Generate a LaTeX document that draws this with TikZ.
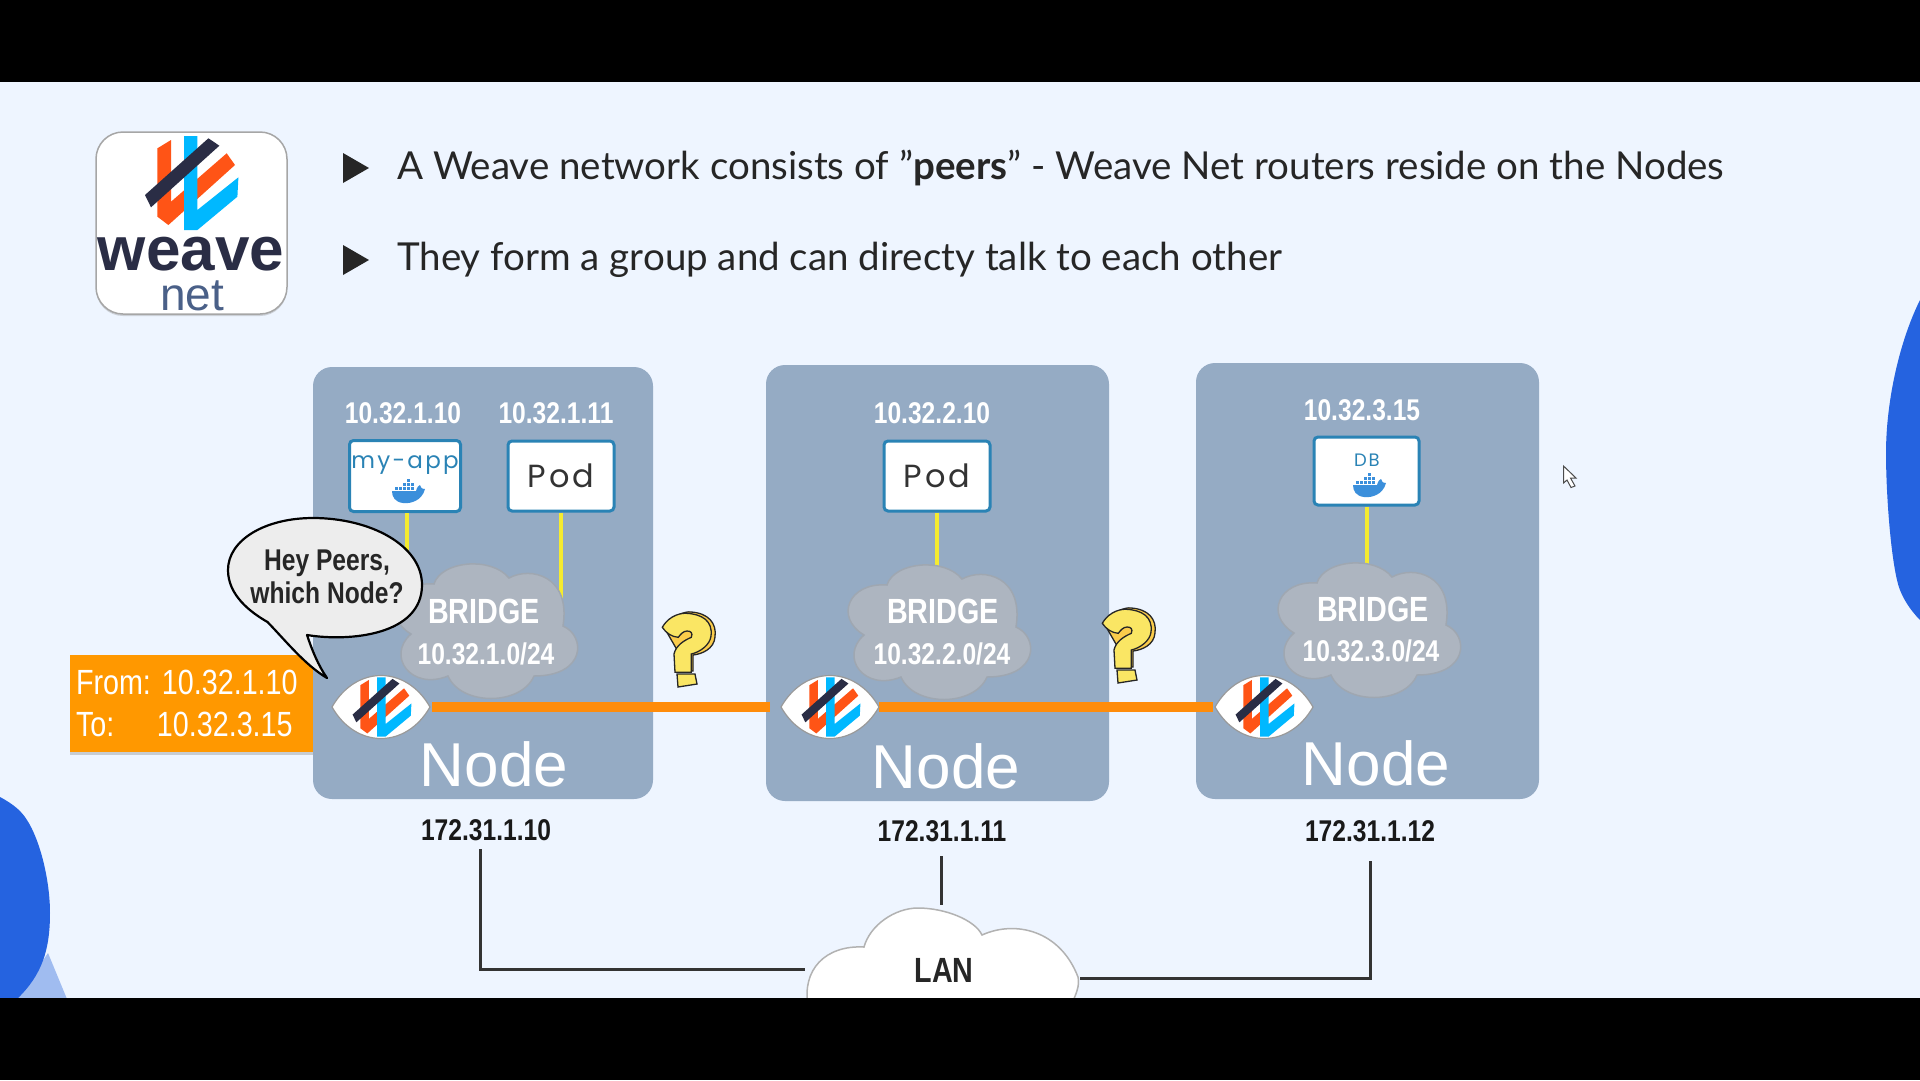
\documentclass[tikz,border=0pt]{standalone}
\usepackage{fontspec}
\usepackage{xcolor}
\usetikzlibrary{arrows.meta,calc,positioning,shadows}
\setmainfont{Lato}
\newfontfamily\condfont[FakeStretch=0.82]{Liberation Sans}
\newfontfamily\plainfont{Liberation Sans}
\newfontfamily\podfont[LetterSpace=10]{Poppins}
\newcommand{\fsz}[1]{\fontsize{#1}{#1}\selectfont}
\definecolor{slidebg}{RGB}{238,245,255}
\definecolor{hostblue}{RGB}{149,171,196}
\definecolor{cloudgrey}{RGB}{173,181,192}
\definecolor{blobblue}{RGB}{37,99,224}
\definecolor{bloblight}{RGB}{160,188,240}
\definecolor{weaveorange}{RGB}{255,84,22}
\definecolor{weavecyan}{RGB}{0,184,255}
\definecolor{weavedark}{RGB}{42,45,69}
\definecolor{weavegrey}{RGB}{74,96,136}
\definecolor{peerorange}{RGB}{255,140,10}
\definecolor{pktorange}{RGB}{255,152,0}
\definecolor{linkyellow}{RGB}{245,235,48}
\definecolor{podedge}{RGB}{42,131,181}
\definecolor{whaleblue}{RGB}{59,143,219}
\definecolor{askyellow}{RGB}{250,230,100}
\tikzset{
  hostbox/.style={fill=hostblue,rounded corners=19pt,inner sep=0pt},
  podbox/.style={draw=podedge,fill=white,line width=3pt,rounded corners=4pt,inner sep=0pt},
  hosttext/.style={text=white,font=\plainfont\fsz{62}},
  iptext/.style={text=white,font=\condfont\bfseries\fsz{30}},
  bridgetext/.style={text=white,font=\condfont\bfseries\fsz{35}},
  subnettext/.style={text=white,font=\condfont\bfseries\fsz{30}},
  lantext/.style={text=black!85,font=\condfont\bfseries\fsz{30}},
  bullettext/.style={anchor=west,inner sep=0pt,text=black!85,font=\fsz{38.5}},
  peerlink/.style={peerorange,line width=10pt},
  vethlink/.style={linkyellow,line width=4pt},
  lanlink/.style={black!80,line width=3pt},
  bridgecloud/.pic={
    \path[fill=cloudgrey,draw=cloudgrey!92!black,line width=1.5pt]
      (-52,-47) .. controls (-45,-70) and (5,-75) .. (23,-53)
      .. controls (45,-65) and (85,-55) .. (77,-5)
      .. controls (100,5) and (100,45) .. (48,45)
      .. controls (35,75) and (-25,75) .. (-38,45)
      .. controls (-75,60) and (-100,25) .. (-75,3)
      .. controls (-105,-15) and (-90,-50) .. (-52,-47) -- cycle;
  },
  weavemark/.pic={
    \fill[weaveorange] (-34.3,-34.7)--(-20.7,-43)--(-20.7,18.7)--(35,-29.7)--(43.3,-18)--(-23.3,42)--(-34.3,33.7)--cycle;
    \fill[weavecyan] (-7.7,-47)--(5.7,-47)--(5.7,27)--(46.7,-5.7)--(45.7,13.7)--(5.7,47)--(-7.7,47)--cycle;
    \fill[weavedark] (-46.7,12)--(16.7,-44.7)--(27.7,-37.3)--(-40.7,24.3)--cycle;
  },
  peereye/.pic={
    \path[fill=white,draw=black!40,line width=1.2pt]
      (-49,0) .. controls (-25,-42) and (25,-42) .. (49,0)
      .. controls (25,42) and (-25,42) .. (-49,0) -- cycle;
    \pic[scale=.63] at (1,0) {weavemark};
  },
  askmark/.pic={
    \path[fill=askyellow!75!orange,draw=black!85,line width=1.3pt]
      (-23,-22) .. controls (-16,-36) and (-2,-40) .. (3,-39)
      .. controls (20,-38) and (29,-28) .. (27,-14)
      .. controls (26,-2) and (14,3) .. (5,4) -- (5,20) -- (-8,21) -- (-8,4) -- cycle;
    \path[fill=askyellow,draw=black!85,line width=1.3pt]
      (-25.7,-23.7) .. controls (-18,-37) and (-5,-38) .. (-1.7,-37.7)
      .. controls (14,-37) and (25,-30) .. (23,-15)
      .. controls (22,-6) and (12,1) .. (3.3,3) -- (3.3,21.3) -- (-13,21.3) -- (-14,3)
      .. controls (-12,-6) and (-3,-11) .. (3.3,-13.7)
      .. controls (5,-18) and (3,-20) .. (-1,-20)
      .. controls (-5,-20) and (-8,-16) .. (-9.7,-13.7)
      .. controls (-16,-14) and (-22,-18) .. (-25.7,-23.7) -- cycle;
    \path[fill=askyellow,draw=black!85,line width=1.3pt] (-11,23)--(7,23)--(9,33)--(-10,36)--cycle;
  },
  dockerwhale/.pic={
    \fill[whaleblue] (-16,-1)--(8,-1) .. controls (9,-5) and (11,-7) .. (12,-7)
      .. controls (13,-5) and (13,-3) .. (17,-3)
      .. controls (14,9) and (2,12) .. (-5,11)
      .. controls (-13,10) and (-16,5) .. (-16,-1) -- cycle;
    \foreach \gx/\gy in {-13/-5,-9/-5,-5/-5,-1/-5,3/-5,-5/-9,-1/-9,3/-9,-1/-13}
      \fill[whaleblue] (\gx,\gy) rectangle ++(3.2,3.2);
  }
}

\begin{document}
\begin{tikzpicture}[x=1pt,y=-1pt,>=Stealth]
  \useasboundingbox (0,0) rectangle (1920,1080);
  \fill[black] (0,0) rectangle (1920,1080);
  \fill[slidebg] (0,82) rectangle (1920,998);
  % corner blobs
  \fill[bloblight] (48,953)--(67,999)--(17,999)--cycle;
  \fill[blobblue] (0,797) .. controls (15,805) and (22,812) .. (27,820)
    .. controls (40,840) and (50,880) .. (50,913)
    .. controls (50,950) and (42,975) .. (17,999) -- (0,999) -- cycle;
  \fill[blobblue] (1920,300) .. controls (1900,340) and (1886,400) .. (1886,453)
    .. controls (1886,490) and (1890,550) .. (1897,580)
    .. controls (1900,595) and (1910,610) .. (1920,620) -- cycle;
  \path[fill=white,draw=black!70,line width=1pt] (1563.5,466)--(1576,478)--(1570.5,478)--(1575,486)--(1571,487.5)--(1567,480)--(1563.5,483)--cycle;

  % logo
  \node[fill=white,draw=black!35,line width=1.5pt,rounded corners=27pt,minimum width=191pt,minimum height=182pt,inner sep=0pt,
    drop shadow={shadow xshift=0pt,shadow yshift=-2pt,opacity=.3}] (logo) at (191.5,223) {};
  \pic[scale=1] at (191.7,183) {weavemark};
  \node[anchor=base,inner sep=0pt,text=weavedark,font=\plainfont\bfseries\fsz{62}] (logoweave) at (191,270) {weave};
  \node[anchor=base,inner sep=0pt,text=weavegrey,font=\plainfont\fsz{46}] (logonet) at (192,310) {net};

  % bullets
  \fill[black!85] (343,153)--(369,168)--(343,183)--cycle;
  \fill[black!85] (343,245)--(369,260)--(343,275)--cycle;
  \node[bullettext] (linea) at (397,168) {A Weave network consists of "\textbf{peers}" - Weave Net routers reside on the Nodes};
  \node[bullettext] (lineb) at (397,260) {They form a group and can directy talk to each other};

  % worker nodes
  \node[hostbox,minimum width=340pt,minimum height=432pt] (hosta) at (483,583) {};
  \node[hostbox,minimum width=343pt,minimum height=436pt] (hostb) at (937.5,583) {};
  \node[hostbox,minimum width=343pt,minimum height=436pt] (hostc) at (1367.5,581) {};
  \node[hosttext] (hostlabela) at (494,764) {Node};
  \node[hosttext] (hostlabelb) at (946,766) {Node};
  \node[hosttext] (hostlabelc) at (1376,763) {Node};

  \node[iptext] (ipmyapp) at (403,413) {10.32.1.10};
  \node[iptext] (ippoda) at (556,413) {10.32.1.11};
  \node[iptext] (ippodb) at (932,413) {10.32.2.10};
  \node[iptext] (ipdb) at (1362,410) {10.32.3.15};

  \node[podbox,minimum width=111pt,minimum height=71pt] (myapp) at (405,476) {};
  \node[podbox,minimum width=106pt,minimum height=70pt,font=\podfont\fsz{32},text=black!80] (poda) at (561,476) {Pod};
  \node[podbox,minimum width=106pt,minimum height=70pt,font=\podfont\fsz{32},text=black!80] (podb) at (937,476) {Pod};
  \node[podbox,minimum width=105pt,minimum height=68pt] (dbbox) at (1366.5,471) {};
  \node[text=podedge,font=\podfont\fsz{23},inner sep=0pt] (myapplabel) at (405,465) {my-app};
  \node[text=podedge,font=\podfont\fsz{18},inner sep=0pt] (dblabel) at (1367,460) {DB};
  \pic at (408,492) {dockerwhale};
  \pic at (1369,486) {dockerwhale};

  \coordinate (clouda) at (486,631);
  \coordinate (cloudb) at (939,632);
  \coordinate (cloudc) at (1369,630);
  \draw[vethlink] (myapp.south -| 407,0) -- (407,600);
  \draw[vethlink] (poda.south) -- (poda.south |- clouda);
  \draw[vethlink] (podb.south) -- (podb.south |- cloudb);
  \draw[vethlink] (dbbox.south) -- (dbbox.south |- cloudc);
  \pic at (clouda) {bridgecloud};
  \pic at (cloudb) {bridgecloud};
  \pic at (cloudc) {bridgecloud};
  \node[bridgetext] (bridgea) at (484,611) {BRIDGE};
  \node[bridgetext] (bridgeb) at (943,611) {BRIDGE};
  \node[bridgetext] (bridgec) at (1373,609) {BRIDGE};
  \node[subnettext] (subneta) at (486,654) {10.32.1.0/24};
  \node[subnettext] (subnetb) at (942,654) {10.32.2.0/24};
  \node[subnettext] (subnetc) at (1371,651) {10.32.3.0/24};

  % packet
  \node[fill=pktorange,minimum width=243pt,minimum height=97pt,text width=231pt,align=left,inner sep=0pt,text=white,
    font=\condfont\fontsize{35}{42}\selectfont,drop shadow={shadow xshift=0pt,shadow yshift=-3pt,opacity=.35}] (packet) at (191.5,703.5)
    {\makebox[86pt][l]{From:}10.32.1.10\\\makebox[81pt][l]{To:}10.32.3.15};

  % peers
  \node[minimum width=98pt,minimum height=62pt,inner sep=0pt] (peera) at (381,707) {};
  \node[minimum width=98pt,minimum height=62pt,inner sep=0pt] (peerb) at (830,707) {};
  \node[minimum width=98pt,minimum height=62pt,inner sep=0pt] (peerc) at (1264,707) {};
  \draw[peerlink,shorten <=2pt,shorten >=11pt] (peera) -- (peerb);
  \draw[peerlink,shorten >=2pt] (peerb) -- (peerc);
  \pic at (peera) {peereye};
  \pic at (peerb) {peereye};
  \pic at (peerc) {peereye};
  \pic at (688,651) {askmark};
  \pic at (1128,647) {askmark};

  % speech bubble
  \path[fill=black!7,draw=black,line width=2.2pt,line join=round] (267.5,622) .. controls (285,640) and (305,665) .. (327,678)
    .. controls (318,665) and (312,650) .. (307,635)
    .. controls (350,642) and (422,635) .. (422,585)
    .. controls (422,545) and (370,518) .. (313,518)
    .. controls (265,518) and (228,540) .. (228,570)
    .. controls (228,595) and (250,612) .. (267.5,622) -- cycle;
  \node[text=black!85,align=center,font=\condfont\bfseries\fontsize{30}{33}\selectfont] (askpeers) at (327,576.5) {Hey Peers,\\which Node?};

  % LAN
  \node[text=black!90,font=\condfont\bfseries\fsz{30}] (ipa) at (486,830) {172.31.1.10};
  \node[text=black!90,font=\condfont\bfseries\fsz{30}] (ipb) at (942,831) {172.31.1.11};
  \node[text=black!90,font=\condfont\bfseries\fsz{30}] (ipc) at (1370,831) {172.31.1.12};
  \path[fill=white,draw=black!30,line width=1.5pt] (808,1005) .. controls (802,970) and (825,945) .. (864,947)
    .. controls (870,925) and (895,908) .. (918,908)
    .. controls (945,908) and (975,920) .. (982,935)
    .. controls (1015,920) and (1060,930) .. (1078,977)
    .. controls (1080,985) and (1076,995) .. (1071,1005) -- cycle;
  \node[lantext,font=\condfont\bfseries\fsz{35}] (lan) at (944,970) {LAN};
  \coordinate (ipadrop) at (480,849);
  \coordinate (ipbdrop) at (941,856);
  \coordinate (ipcdrop) at (1370,861);
  \coordinate (lanwest) at (805,969);
  \coordinate (lannorth) at (941,905);
  \coordinate (laneast) at (1080,978);
  \draw[lanlink] (ipadrop) |- (lanwest);
  \draw[lanlink] (ipbdrop) -- (lannorth);
  \draw[lanlink] (ipcdrop) |- (laneast);

  \fill[black] (0,998) rectangle (1920,1080);
\end{tikzpicture}
\end{document}
